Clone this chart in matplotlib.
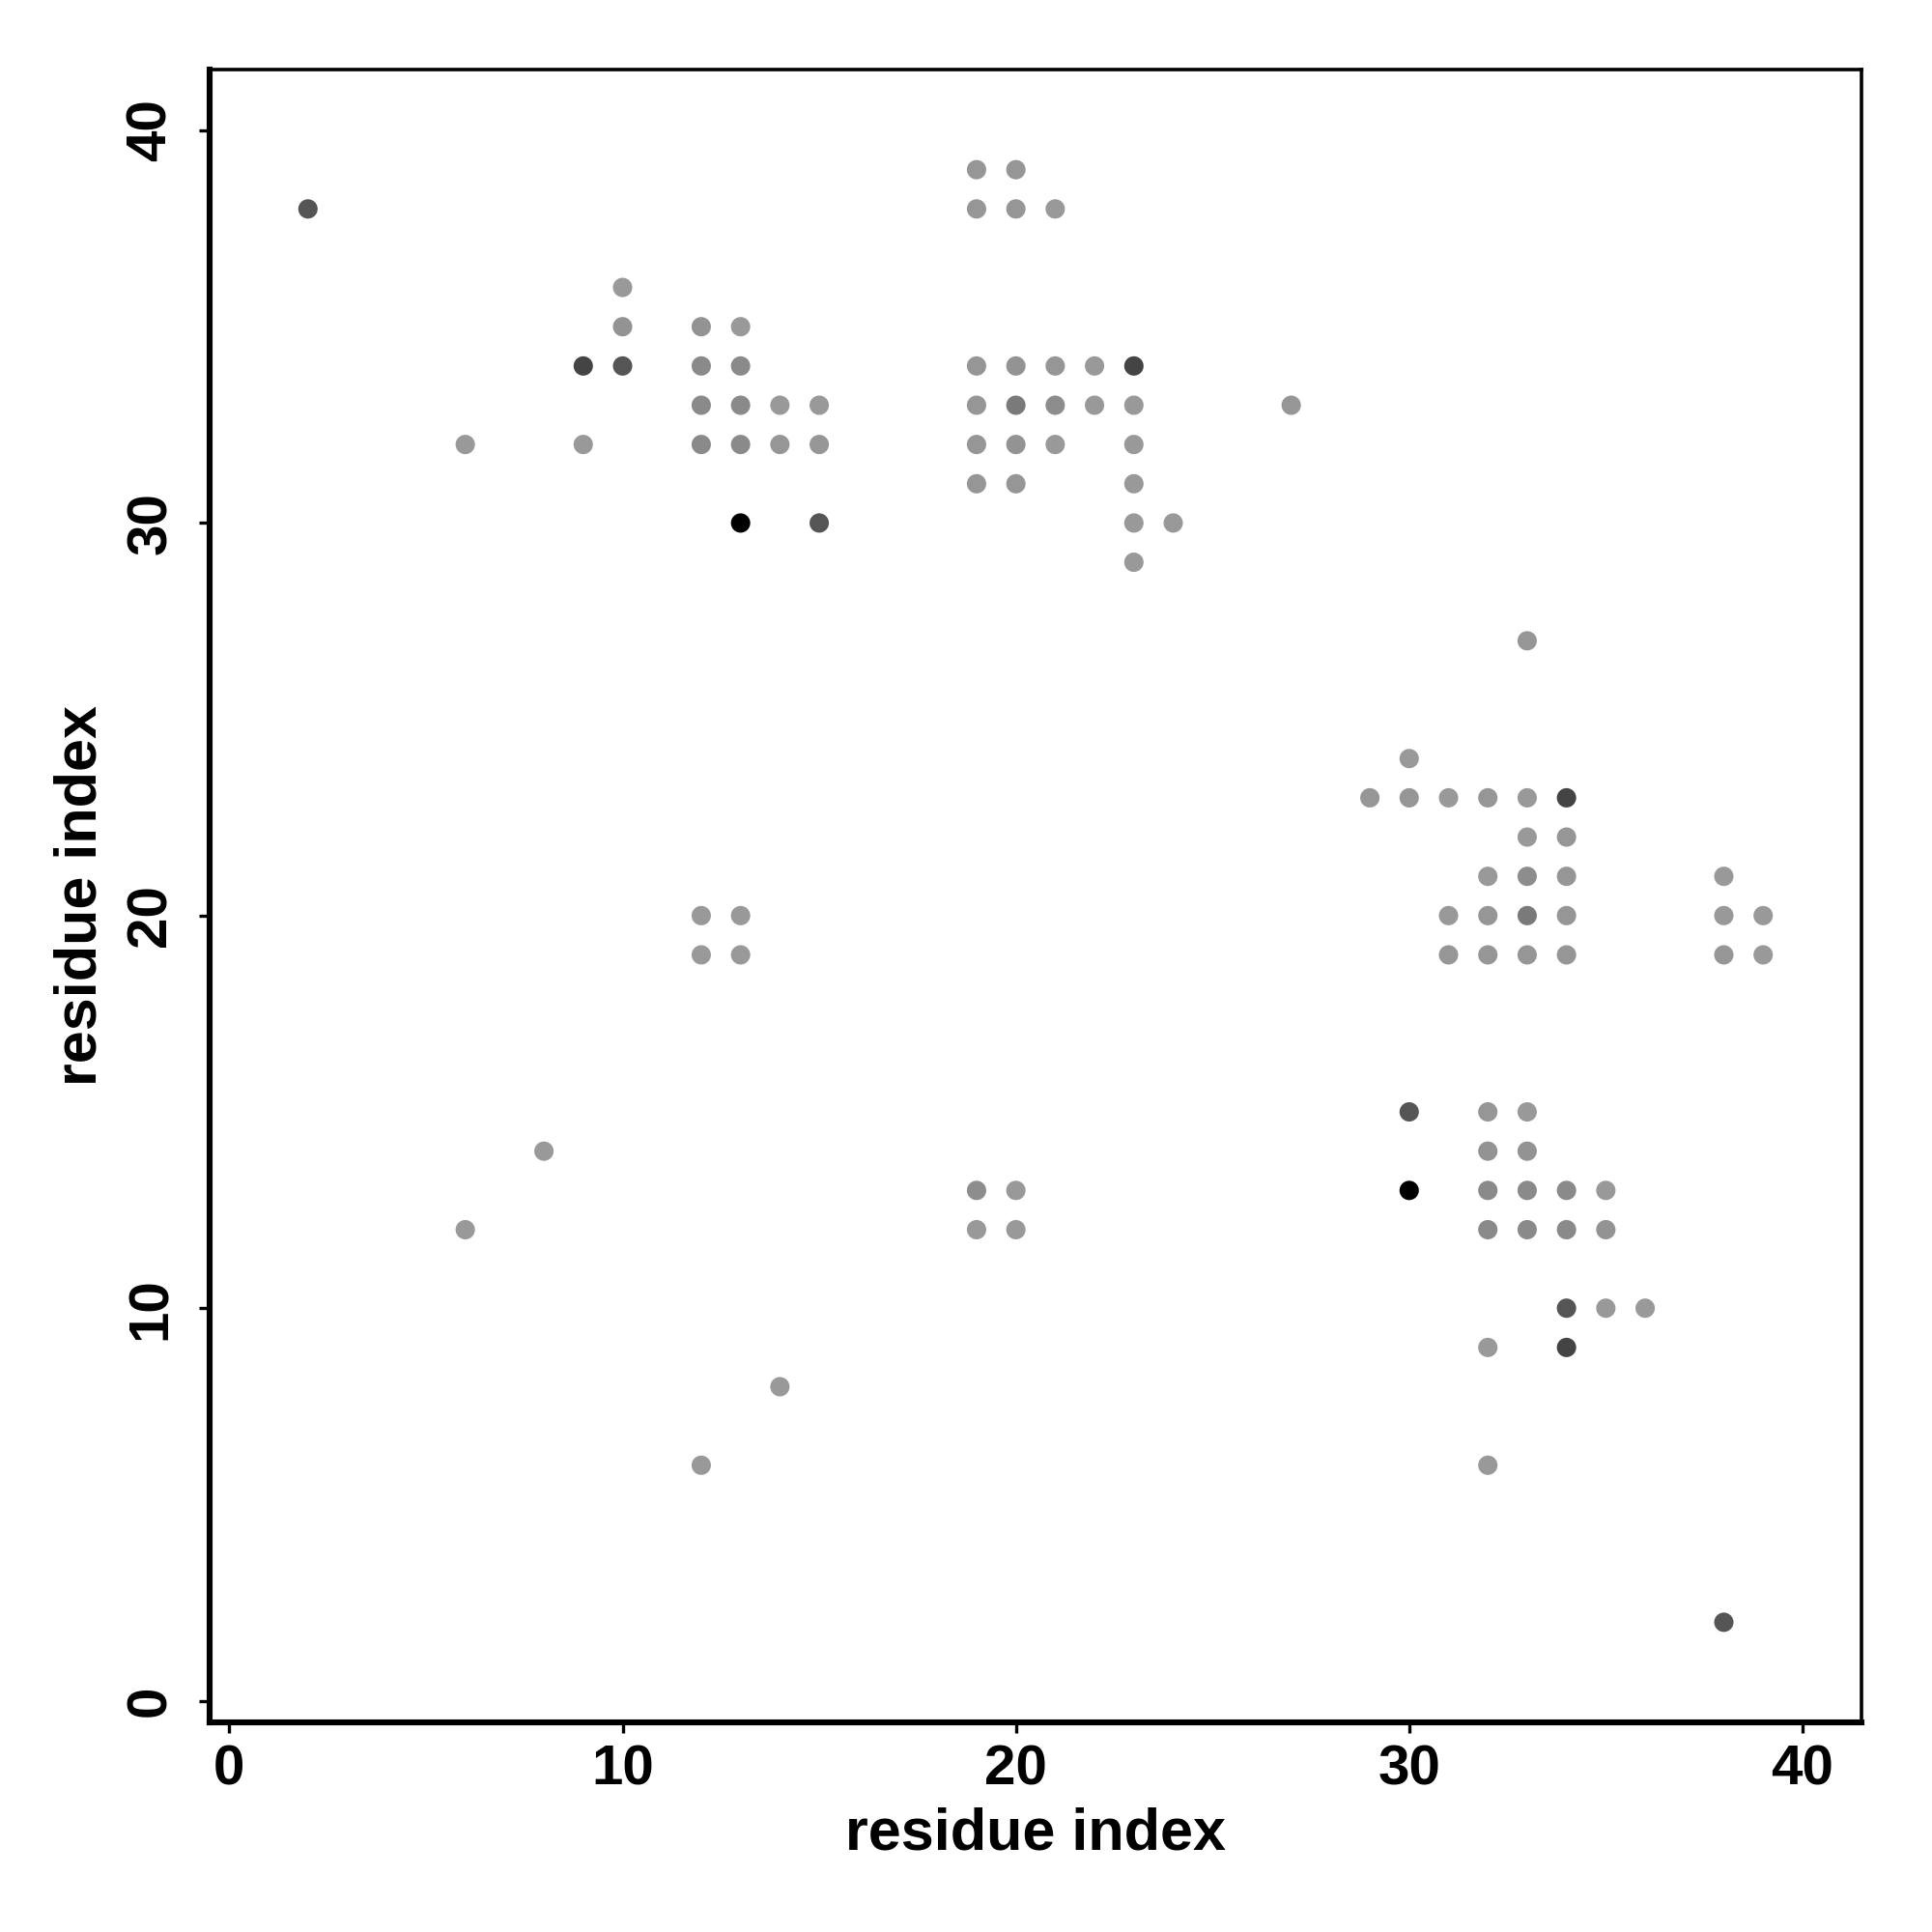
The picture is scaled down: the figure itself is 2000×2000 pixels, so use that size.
import matplotlib
matplotlib.use("Agg")
import matplotlib.pyplot as plt

plt.rcParams['font.family'] = ['Liberation Sans', 'DejaVu Sans']
plt.rcParams['font.weight'] = 'bold'

# contact map: residue i, residue j, grey shade of the dot
res_i = [2, 6, 9, 10, 9, 10, 10, 12, 13, 12, 13, 12, 13, 14, 15, 12, 13, 14, 15, 13, 15,
         19, 20, 19, 20, 21, 19, 20, 21, 22, 23, 19, 20, 21, 22, 23, 19, 20, 21, 23,
         19, 20, 23, 23, 24, 23, 27,
         33, 30, 29, 30, 31, 32, 33, 34, 33, 34, 32, 33, 34, 31, 32, 33, 34, 31, 32, 33, 34,
         38, 38, 39, 38, 39,
         12, 13, 12, 13, 8, 6, 19, 20, 19, 20, 14, 12,
         30, 30, 32, 33, 32, 33, 32, 33, 34, 35, 32, 33, 34, 35, 34, 35, 36, 32, 34, 32, 38]
res_j = [38, 32, 34, 34, 32, 36, 35, 35, 35, 34, 34, 33, 33, 33, 33, 32, 32, 32, 32, 30, 30,
         39, 39, 38, 38, 38, 34, 34, 34, 34, 34, 33, 33, 33, 33, 33, 32, 32, 32, 32,
         31, 31, 31, 30, 30, 29, 33,
         27, 24, 23, 23, 23, 23, 23, 23, 22, 22, 21, 21, 21, 20, 20, 20, 20, 19, 19, 19, 19,
         21, 20, 20, 19, 19,
         20, 20, 19, 19, 14, 12, 13, 13, 12, 12, 8, 6,
         15, 13, 15, 15, 14, 14, 13, 13, 13, 13, 12, 12, 12, 12, 10, 10, 10, 9, 9, 6, 2]
shade = ['#555555', '#999999', '#444444', '#555555', '#999999', '#999999', '#939393',
         '#939393', '#999999', '#8a8a8a', '#8a8a8a', '#8a8a8a', '#8a8a8a', '#999999', '#999999',
         '#8a8a8a', '#8a8a8a', '#969696', '#969696', '#000000', '#555555',
         '#969696', '#969696', '#969696', '#969696', '#999999',
         '#969696', '#939393', '#969696', '#999999', '#444444',
         '#969696', '#7a7a7a', '#8d8d8d', '#999999', '#999999',
         '#969696', '#939393', '#999999', '#999999',
         '#969696', '#969696', '#999999', '#999999', '#999999', '#999999', '#969696',
         '#969696', '#999999', '#969696', '#969696', '#999999', '#969696', '#999999', '#444444',
         '#999999', '#969696', '#999999', '#8d8d8d', '#969696',
         '#999999', '#969696', '#7a7a7a', '#969696',
         '#969696', '#969696', '#969696', '#969696',
         '#999999', '#999999', '#999999', '#969696', '#999999',
         '#999999', '#999999', '#999999', '#999999', '#999999', '#999999',
         '#8d8d8d', '#999999', '#999999', '#999999', '#999999', '#999999',
         '#555555', '#000000', '#969696', '#999999', '#939393', '#939393',
         '#8a8a8a', '#8a8a8a', '#8a8a8a', '#999999', '#8a8a8a', '#8a8a8a', '#8a8a8a', '#939393',
         '#555555', '#999999', '#999999', '#999999', '#444444', '#999999', '#555555']

ticks = [0, 10, 20, 30, 40]

fig = plt.figure(figsize=(10, 10), dpi=200)
ax = fig.add_axes([0.1085, 0.1085, 0.855, 0.8555])

ax.scatter(res_i, res_j, s=52, c=shade, edgecolors='none')

ax.set_xlim(-0.5, 41.5)
ax.set_ylim(-0.55, 41.55)
ax.set_xticks(ticks)
ax.set_yticks(ticks)
ax.set_xticklabels([str(t) for t in ticks], fontsize=21, fontweight='bold')
ax.set_yticklabels([str(t) for t in ticks], fontsize=21, fontweight='bold',
                   rotation=90, va='center')
ax.tick_params(axis='x', direction='out', length=4, width=1.2, pad=4, colors='black')
ax.tick_params(axis='y', direction='out', length=4, width=1.2, pad=8, colors='black')

for side in ['left', 'bottom']:
    ax.spines[side].set_linewidth(2.2)
for side in ['top', 'right']:
    ax.spines[side].set_linewidth(1.3)

ax.set_xlabel('residue index', fontsize=22, fontweight='bold', labelpad=4)
ax.set_ylabel('residue index', fontsize=22, fontweight='bold', labelpad=6)

fig.savefig('out.png', dpi=200, facecolor='white')
